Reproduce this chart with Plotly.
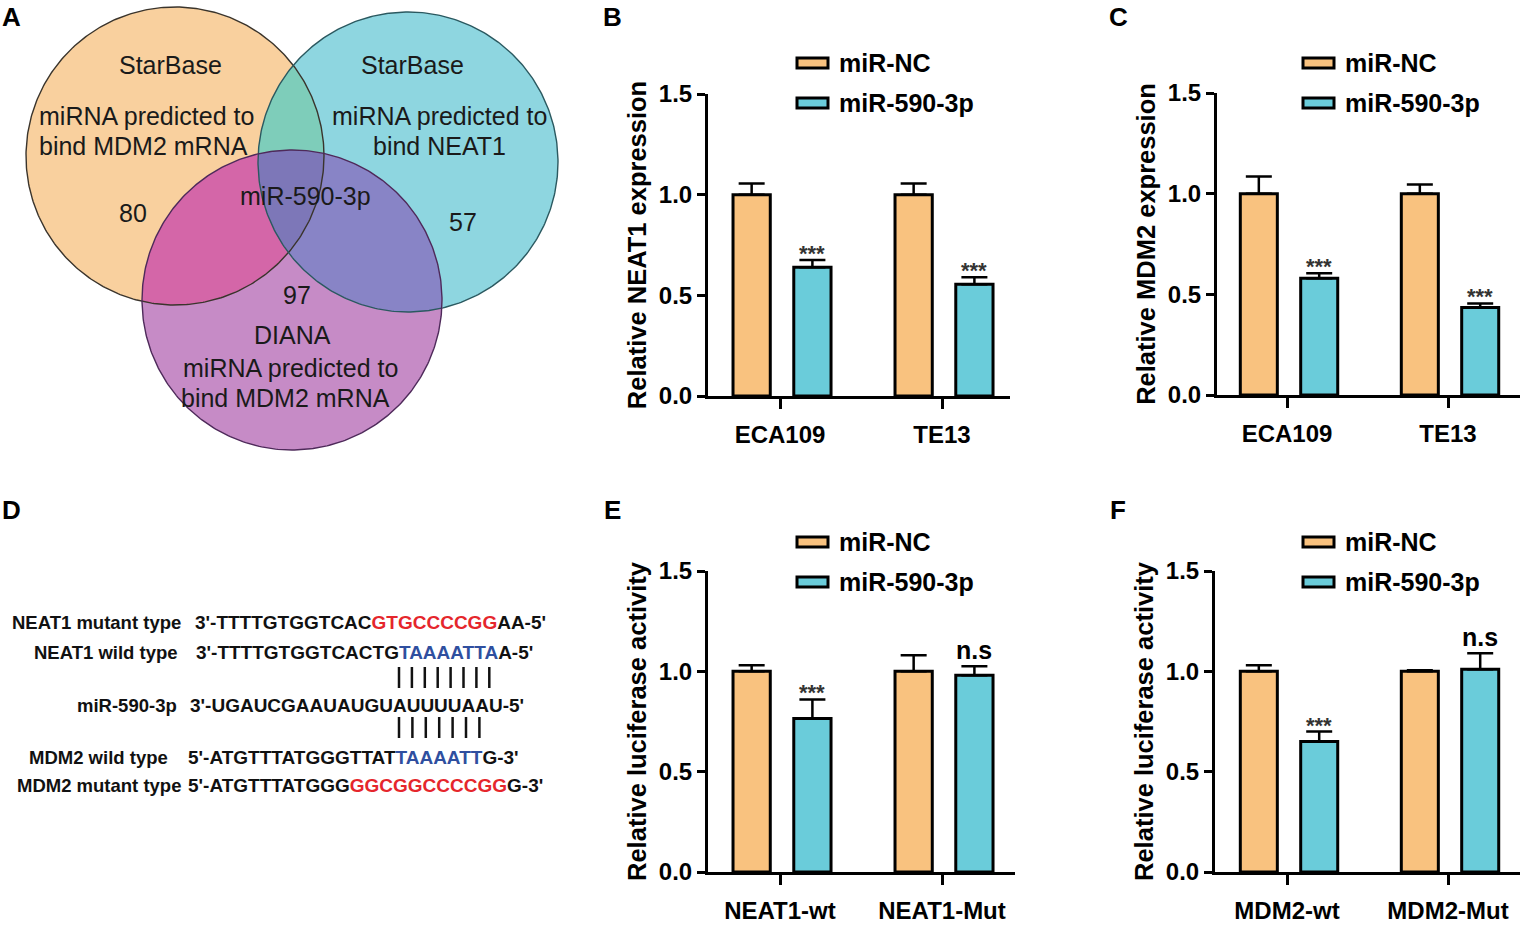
import numpy as np
import plotly.graph_objects as go

W, H = 1528, 928

# ---------------- data ----------------
series_names = ["miR-NC", "miR-590-3p"]
y_tick_vals = [0, 0.5, 1.0, 1.5]
y_tick_text = ["0.0", "0.5", "1.0", "1.5"]

groups_B = ["ECA109", "TE13"]
nc_B = [1.0, 1.0]
nc_B_err = [0.055, 0.055]
mir_B = [0.64, 0.555]
mir_B_err = [0.035, 0.035]
sig_B = ["***", "***"]

groups_C = ["ECA109", "TE13"]
nc_C = [1.0, 1.0]
nc_C_err = [0.085, 0.045]
mir_C = [0.58, 0.435]
mir_C_err = [0.025, 0.02]
sig_C = ["***", "***"]

groups_E = ["NEAT1-wt", "NEAT1-Mut"]
nc_E = [1.0, 1.0]
nc_E_err = [0.03, 0.08]
mir_E = [0.765, 0.98]
mir_E_err = [0.095, 0.045]
sig_E = ["***", "n.s"]

groups_F = ["MDM2-wt", "MDM2-Mut"]
nc_F = [1.0, 1.0]
nc_F_err = [0.03, 0.005]
mir_F = [0.65, 1.01]
mir_F_err = [0.05, 0.08]
sig_F = ["***", "n.s"]

ytitle_B = "Relative NEAT1 expression"
ytitle_C = "Relative MDM2 expression"
ytitle_E = "Relative luciferase activity"
ytitle_F = "Relative luciferase activity"

venn_set_titles = ["StarBase", "StarBase", "DIANA"]
venn_set_desc = [["miRNA predicted to", "bind MDM2 mRNA"],
                 ["miRNA predicted to", "bind NEAT1"],
                 ["miRNA predicted to", "bind MDM2 mRNA"]]
venn_counts = [80, 57, 97]
venn_common = "miR-590-3p"

seq_labels = ["NEAT1 mutant type", "NEAT1 wild type", "miR-590-3p",
              "MDM2 wild type", "MDM2 mutant type"]
seq_parts = [
    [("3'-TTTTGTGGTCAC", "k"), ("GTGCCCCGG", "r"), ("AA-5'", "k")],
    [("3'-TTTTGTGGTCACTG", "k"), ("TAAAATTA", "b"), ("A-5'", "k")],
    [("3'-UGAUCGAAUAUGUAUUUUAAU-5'", "k")],
    [("5'-ATGTTTATGGGTTAT", "k"), ("TAAAATT", "b"), ("G-3'", "k")],
    [("5'-ATGTTTATGGG", "k"), ("GGCGGCCCCGG", "r"), ("G-3'", "k")],
]
pair_counts = [8, 7]

# ---------------- styling ----------------
FONT = "Liberation Sans, Arial, sans-serif"
C_NC = "#F9C27F"
C_MIR = "#6ACCDA"
C_SEQ = {"k": "#111111", "r": "#E5262C", "b": "#2F4F9F"}

def px(x):
    return x / W

def py(y):
    return 1 - y / H

fig = go.Figure()
annotations = []
shapes = []

BAR_W = 0.23
OFF_NC = -0.29
OFF_MIR = 0.085

panels = [
    ("", groups_B, nc_B, nc_B_err, mir_B, mir_B_err, sig_B, ytitle_B, 708, 1010, 94, 396, 780, 942, 797, 63),
    ("2", groups_C, nc_C, nc_C_err, mir_C, mir_C_err, sig_C, ytitle_C, 1217, 1520, 93, 395, 1287, 1448, 1303, 63),
    ("3", groups_E, nc_E, nc_E_err, mir_E, mir_E_err, sig_E, ytitle_E, 708, 1015, 571, 872, 780, 942, 797, 542),
    ("4", groups_F, nc_F, nc_F_err, mir_F, mir_F_err, sig_F, ytitle_F, 1215, 1520, 571, 872, 1287, 1448, 1303, 542),
]

layout_axes = {}
for (sfx, groups, nc, ncerr, mir, mirerr, sig, ytitle, x0, x1, yt, yb, c0, c1, lx, ly) in panels:
    xa = "x" + sfx
    ya = "y" + sfx
    xpos = list(range(len(groups)))
    for vals, errs, col, off in [(nc, ncerr, C_NC, OFF_NC), (mir, mirerr, C_MIR, OFF_MIR)]:
        fig.add_trace(go.Bar(
            x=xpos, y=vals, width=BAR_W, offset=off,
            marker=dict(color=col, line=dict(color="black", width=3)),
            error_y=dict(type="data", array=errs, arrayminus=[0] * len(errs),
                         symmetric=False, color="black", thickness=2.5, width=13),
            xaxis=xa, yaxis=ya, showlegend=False, hoverinfo="skip"))
    step = c1 - c0
    xr = [(x0 - c0) / step, (x1 - c0) / step]
    layout_axes["xaxis" + sfx] = dict(
        domain=[px(x0), px(x1)], anchor=ya, range=xr, fixedrange=True,
        tickvals=xpos, ticktext=groups, ticks="outside", ticklen=10, tickwidth=3,
        tickcolor="black", showline=True, linewidth=3, linecolor="black",
        showgrid=False, zeroline=False, ticklabelstandoff=5, automargin=False,
        tickfont=dict(family=FONT, size=24, color="black", weight="bold"))
    layout_axes["yaxis" + sfx] = dict(
        domain=[py(yb), py(yt)], anchor=xa, range=[0, 1.5], fixedrange=True,
        tickvals=y_tick_vals, ticktext=y_tick_text, ticks="outside", ticklen=8,
        tickwidth=3, tickcolor="black", showline=True, linewidth=3, linecolor="black",
        showgrid=False, zeroline=False, automargin=False,
        tickfont=dict(family=FONT, size=24, color="black", weight="bold"),
        title=dict(text=ytitle, standoff=5,
                   font=dict(family=FONT, size=25.5, color="black", weight="bold")))
    for i, s in enumerate(sig):
        xc = i + OFF_MIR + BAR_W / 2
        ytop = mir[i] + mirerr[i]
        if s == "n.s":
            annotations.append(dict(x=xc, y=ytop, xref=xa, yref=ya, text=s, showarrow=False,
                                    yanchor="bottom", yshift=0,
                                    font=dict(family=FONT, size=25, color="black", weight="bold")))
        else:
            annotations.append(dict(x=xc, y=ytop, xref=xa, yref=ya, text=s, showarrow=False,
                                    yanchor="bottom", yshift=-8,
                                    font=dict(family=FONT, size=22, color="#333333", weight="bold")))
    for k, (nm, col) in enumerate(zip(series_names, [C_NC, C_MIR])):
        yc = ly + 40 * k
        shapes.append(dict(type="rect", xref="paper", yref="paper",
                           x0=px(lx), x1=px(lx + 31), y0=py(yc + 5), y1=py(yc - 5),
                           fillcolor=col, line=dict(color="black", width=3)))
        annotations.append(dict(x=px(lx + 40), y=py(yc), xref="paper", yref="paper",
                                text=nm, showarrow=False, xanchor="left", yanchor="middle",
                                font=dict(family=FONT, size=25, color="black", weight="bold")))

# ---------------- Venn (panel A) ----------------
circ = [((175, 156), 149), ((408, 162), 150), ((292, 300), 150)]
venn_fill = ["#F9D09E", "#8ED6E0", "#C68BC6"]
venn_line = ["#3a342c", "#2b5960", "#4e2a5a"]
pair_fill = {(0, 1): "#7ECDBA", (0, 2): "#D466A8", (1, 2): "#8884C6"}
triple_fill = "#7D77B8"

def circle_pts(c, r, n=400):
    t = np.linspace(0, 2 * np.pi, n, endpoint=False)
    return [(c[0] + r * np.cos(a), c[1] + r * np.sin(a)) for a in t]

def clip(subject, clipper):
    out = subject
    n = len(clipper)
    for i in range(n):
        a = clipper[i]
        b = clipper[(i + 1) % n]
        inp = out
        out = []
        if not inp:
            break
        def inside(p):
            return (b[0] - a[0]) * (p[1] - a[1]) - (b[1] - a[1]) * (p[0] - a[0]) >= 0
        def inter(p, q):
            x1, y1 = p; x2, y2 = q; x3, y3 = a; x4, y4 = b
            den = (x1 - x2) * (y3 - y4) - (y1 - y2) * (x3 - x4)
            t = ((x1 - x3) * (y3 - y4) - (y1 - y3) * (x3 - x4)) / den
            return (x1 + t * (x2 - x1), y1 + t * (y2 - y1))
        s = inp[-1]
        for e in inp:
            if inside(e):
                if not inside(s):
                    out.append(inter(s, e))
                out.append(e)
            elif inside(s):
                out.append(inter(s, e))
            s = e
    return out

polys = [circle_pts(c, r) for c, r in circ]

def add_poly(pts, color):
    xs = [p[0] for p in pts] + [pts[0][0]]
    ys = [p[1] for p in pts] + [pts[0][1]]
    fig.add_trace(go.Scatter(x=xs, y=ys, mode="lines", fill="toself", fillcolor=color,
                             line=dict(width=0, color=color), xaxis="x5", yaxis="y5",
                             showlegend=False, hoverinfo="skip"))

for p, col in zip(polys, venn_fill):
    add_poly(p, col)
for (i, j), col in pair_fill.items():
    add_poly(clip(polys[i], polys[j]), col)
add_poly(clip(clip(polys[0], polys[1]), polys[2]), triple_fill)
for p, col in zip(polys, venn_line):
    xs = [q[0] for q in p] + [p[0][0]]
    ys = [q[1] for q in p] + [p[0][1]]
    fig.add_trace(go.Scatter(x=xs, y=ys, mode="lines", line=dict(width=1.4, color=col),
                             xaxis="x5", yaxis="y5", showlegend=False, hoverinfo="skip"))

layout_axes["xaxis5"] = dict(domain=[0, px(560)], anchor="y5", range=[0, 560], visible=False,
                             fixedrange=True)
layout_axes["yaxis5"] = dict(domain=[py(460), 1], anchor="x5", range=[460, 0], visible=False,
                             fixedrange=True)

VF = dict(family=FONT, size=25, color="#1a1a1a")
venn_text_pos = [
    [(170, 65), (146, 116), (143, 146), (133, 213)],
    [(412, 65), (439, 116), (439, 146), (463, 222)],
    [(292, 335), (290, 368), (285, 398), (297, 295)],
]
for k in range(3):
    texts = [venn_set_titles[k]] + venn_set_desc[k] + [str(venn_counts[k])]
    for t, (x, y) in zip(texts, venn_text_pos[k]):
        annotations.append(dict(x=x, y=y, xref="x5", yref="y5", text=t, showarrow=False,
                                xanchor="center", yanchor="middle", font=VF))
annotations.append(dict(x=305, y=196, xref="x5", yref="y5", text=venn_common, showarrow=False,
                        xanchor="center", yanchor="middle", font=VF))

# ---------------- Panel D (sequences) ----------------
row_y = [622, 652, 705, 757, 785]
label_x = [10, 32, 75, 27, 15]
seq_x = [193, 194, 188, 186, 186]
LF = dict(family=FONT, size=18.5, color="#111111", weight="bold")
SF = dict(family=FONT, size=19, color="#111111", weight="bold")
for lab, parts, y, lx, sx in zip(seq_labels, seq_parts, row_y, label_x, seq_x):
    annotations.append(dict(x=px(lx), y=py(y), xref="paper", yref="paper", text=lab,
                            showarrow=False, xanchor="left", yanchor="middle", font=LF))
    html = "".join(f"<span style='color:{C_SEQ[c]}'>{s}</span>" for s, c in parts)
    annotations.append(dict(x=px(sx), y=py(y), xref="paper", yref="paper", text=html,
                            showarrow=False, xanchor="left", yanchor="middle", font=SF))

pair_rows = [(399, 12.9, 667, 688), (399, 13.4, 717, 738)]
for n, (x0, dx, y0, y1) in zip(pair_counts, pair_rows):
    for i in range(n):
        xx = x0 + i * dx
        shapes.append(dict(type="line", xref="paper", yref="paper",
                           x0=px(xx), x1=px(xx), y0=py(y0), y1=py(y1),
                           line=dict(color="#111111", width=2.5)))

# ---------------- panel letters ----------------
for letter, (x, y) in zip("ABCDEF", [(11, 17), (612, 17), (1118, 17), (11, 510), (612, 510), (1118, 510)]):
    annotations.append(dict(x=px(x), y=py(y), xref="paper", yref="paper", text=letter,
                            showarrow=False, xanchor="center", yanchor="middle",
                            font=dict(family=FONT, size=26, color="black", weight="bold")))

fig.update_layout(
    width=W, height=H, autosize=False,
    margin=dict(l=0, r=0, t=0, b=0, pad=0, autoexpand=False),
    paper_bgcolor="white", plot_bgcolor="rgba(0,0,0,0)",
    barmode="overlay", showlegend=False,
    font=dict(family=FONT, color="black"),
    annotations=annotations, shapes=shapes,
    **layout_axes)

fig.write_html("out.html", config={"displayModeBar": False, "staticPlot": True},
               post_script="document.body.style.margin='0';")
